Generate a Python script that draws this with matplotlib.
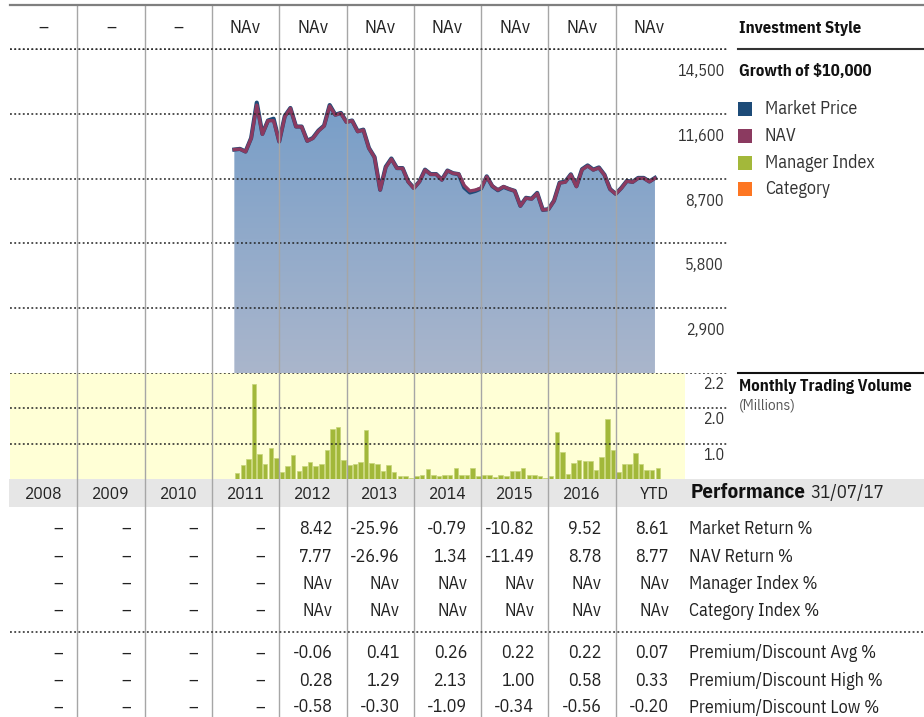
import matplotlib
matplotlib.use('Agg')
import matplotlib.pyplot as plt
from matplotlib.patches import Polygon, Rectangle
from matplotlib.colors import LinearSegmentedColormap
from matplotlib.transforms import blended_transform_factory, offset_copy
import numpy as np
import pandas as pd

plt.rcParams['font.family'] = ['IBM Plex Sans Condensed', 'DejaVu Sans']

# ---- data ----
years = ['2008', '2009', '2010', '2011', '2012', '2013', '2014', '2015', '2016', 'YTD']
style_row = ['–', '–', '–', 'NAv', 'NAv', 'NAv', 'NAv', 'NAv', 'NAv', 'NAv']

growth_start = '2011-04-30'
nav_growth = [10000, 10020, 9900, 10500, 11990, 10680, 11290, 11290, 10350, 11470,
              11845, 11020, 11020, 10380, 10500, 10830, 11050, 11950, 11545, 11620,
              11220, 11290, 10800, 10875, 10055, 9650, 8190, 9200, 9575, 9160,
              9160, 8560, 8265, 8560, 9085, 8890, 8890, 8640, 9050, 8935,
              8905, 8390, 8145, 8190, 8280, 8785, 8370, 8190, 8340, 8235,
              8145, 7475, 7830, 7785, 8040, 7295, 7325, 7700, 8500, 8540,
              8875, 8340, 9100, 9265, 9085, 9180, 8860, 8220, 8010, 8265,
              8590, 8540, 8715, 8715, 8560, 8715]
market_growth = [10000, 10030, 9910, 10520, 12100, 10700, 11300, 11380, 10360, 11500,
                 11860, 11030, 11030, 10390, 10520, 10850, 11070, 11990, 11560, 11640,
                 11240, 11300, 10820, 10890, 10070, 9660, 8200, 9230, 9600, 9170,
                 9170, 8570, 8280, 8570, 9100, 8900, 8900, 8650, 9060, 8940,
                 8900, 8300, 8080, 8150, 8260, 8800, 8360, 8180, 8330, 8230,
                 8150, 7480, 7840, 7800, 8060, 7300, 7330, 7710, 8520, 8560,
                 8890, 8360, 9120, 9290, 9100, 9200, 8870, 8230, 8020, 8280,
                 8600, 8550, 8730, 8730, 8570, 8730]

volume_start = '2011-05-01'
volume = [0.18, 0.39, 0.56, 2.68, 0.70, 0.43, 0.89, 0.59,
          0.21, 0.37, 0.68, 0.23, 0.36, 0.48, 0.37, 0.43, 0.81, 1.42, 1.46, 0.54,
          0.40, 0.42, 0.48, 1.40, 0.45, 0.42, 0.24, 0.39, 0.21, 0.09, 0.08, 0.03,
          0.08, 0.10, 0.28, 0.10, 0.08, 0.10, 0.11, 0.30, 0.10, 0.12, 0.30, 0.08,
          0.11, 0.11, 0.06, 0.11, 0.08, 0.23, 0.23, 0.32, 0.11, 0.11, 0.08, 0.02,
          0.08, 1.34, 0.76, 0.14, 0.45, 0.53, 0.51, 0.51, 0.26, 0.62, 1.69, 0.81,
          0.20, 0.43, 0.43, 0.75, 0.43, 0.25, 0.25, 0.31]

growth_ticks = [2900, 5800, 8700, 11600, 14500]
volume_ticks = [1, 2, 3]
volume_tick_labels = ['1.0', '2.0', '2.2']

legend_names = ['Market Price', 'NAV', 'Manager Index', 'Category']
legend_colors = ['#1d4b78', '#8b3a60', '#a3b83a', '#fd7622']

perf_labels = ['Market Return %', 'NAV Return %', 'Manager Index %', 'Category Index %',
               'Premium/Discount Avg %', 'Premium/Discount High %', 'Premium/Discount Low %']
market_return = ['–', '–', '–', '–', '8.42', '-25.96', '-0.79', '-10.82', '9.52', '8.61']
nav_return = ['–', '–', '–', '–', '7.77', '-26.96', '1.34', '-11.49', '8.78', '8.77']
manager_index = ['–', '–', '–', '–', 'NAv', 'NAv', 'NAv', 'NAv', 'NAv', 'NAv']
category_index = ['–', '–', '–', '–', 'NAv', 'NAv', 'NAv', 'NAv', 'NAv', 'NAv']
pd_avg = ['–', '–', '–', '–', '-0.06', '0.41', '0.26', '0.22', '0.22', '0.07']
pd_high = ['–', '–', '–', '–', '0.28', '1.29', '2.13', '1.00', '0.58', '0.33']
pd_low = ['–', '–', '–', '–', '-0.58', '-0.30', '-1.09', '-0.34', '-0.56', '-0.20']
perf_rows = [market_return, nav_return, manager_index, category_index, pd_avg, pd_high, pd_low]
perf_date = '31/07/17'

# ---- layout (pixels) ----
W, H = 924, 717
x0, colw = 10, 67.3
grid_right = 727
fig = plt.figure(figsize=(W / 100, H / 100), dpi=100)

def frac(left, top, right, bottom):
    return [left / W, 1 - bottom / H, (right - left) / W, (bottom - top) / H]

bg = fig.add_axes([0, 0, 1, 1], zorder=0)
bg.set_xlim(0, W)
bg.set_ylim(H, 0)
bg.axis('off')

xmax_year = 2008 + (grid_right - x0) / colw
dot = (0, (1.2, 1.6))
tc = '#222222'

# growth chart
ax = fig.add_axes(frac(x0, 49, grid_right, 373), zorder=2)
ax.set_facecolor('none')
dates = pd.date_range(growth_start, periods=len(nav_growth), freq='ME')
gx = dates.year + dates.month / 12
verts = [(gx[0], 0)] + list(zip(gx, nav_growth)) + [(gx[-1], 0)]
poly = Polygon(verts, facecolor='none', edgecolor='none')
ax.add_patch(poly)
cmap = LinearSegmentedColormap.from_list('g', ['#789ec8', '#aab6cc'])
grad = np.linspace(0, 1, 256).reshape(-1, 1)
im = ax.imshow(grad, cmap=cmap, aspect='auto', origin='upper',
               extent=[gx[0], gx[-1], 0, max(nav_growth)], zorder=1)
im.set_clip_path(poly)
ax.plot(gx, market_growth, color='#1d4b78', lw=3.0, zorder=3, solid_joinstyle='round')
ax.plot(gx, nav_growth, color='#8b3a60', lw=2.4, zorder=4, solid_joinstyle='round')
ax.set_xlim(2008, xmax_year)
ax.set_ylim(0, 14500)
lab_tr = offset_copy(blended_transform_factory(ax.transAxes, ax.transData), fig=fig,
                     x=-3, y=-22, units='dots')
for t in growth_ticks:
    ax.axhline(t, color='#222222', lw=1.1, ls=dot, zorder=5)
    ax.text(1, t, f'{t:,}', transform=lab_tr, ha='right', va='center',
            fontsize=11.5, color='#333333')
ax.axis('off')

# volume chart
vax = fig.add_axes(frac(x0, 373, grid_right, 479), zorder=1)
vax.set_facecolor('none')
vdates = pd.date_range(volume_start, periods=len(volume), freq='MS')
vx = vdates.year + (vdates.month - 1) / 12 + 1 / 24
vax.add_patch(Rectangle((2008, 0), 10 + 0.03, 3, facecolor='#ffffd6', edgecolor='none', zorder=0))
vax.bar(vx, volume, width=0.8 / 12, color='#a2b83a', edgecolor='#c6d57a', lw=0.5, zorder=2)
vax.set_xlim(2008, xmax_year)
vax.set_ylim(0, 3)
vlab_tr = offset_copy(blended_transform_factory(vax.transAxes, vax.transData), fig=fig,
                      x=-3, y=-11, units='dots')
for t, lab in zip(volume_ticks, volume_tick_labels):
    vax.axhline(t, color='#222222', lw=1.1, ls=dot, zorder=3)
    vax.text(1, t, lab, transform=vlab_tr, ha='right', va='center',
             fontsize=11.5, color='#333333')
vax.axis('off')

# overlay for lines and text
ov = fig.add_axes([0, 0, 1, 1], zorder=6)
ov.set_facecolor('none')
ov.set_xlim(0, W)
ov.set_ylim(H, 0)
ov.axis('off')

# performance band
bg.add_patch(Rectangle((x0 - 1, 479), W - x0 + 1, 28, facecolor='#e6e6e6', edgecolor='none'))

# top line and header row
ov.plot([x0, W], [5, 5], color='#7f7f7f', lw=1.6)
ov.plot([x0, grid_right], [49, 49], color='#222222', lw=1.1, ls=dot)
for i, v in enumerate(style_row):
    ov.text(x0 + colw * (i + 0.5), 28, v, ha='center', va='center', fontsize=13.5, color=tc)

# column separators
for i in range(1, 10):
    xx = x0 + colw * i
    ov.plot([xx, xx], [5, H], color='#a6a6a6', lw=1.0, zorder=0)

# right side panel
ov.text(739, 29, 'Investment Style', fontsize=12, fontweight='bold', va='center', color='#111111')
ov.plot([738, W], [49, 49], color='#333333', lw=1.5)
ov.text(739, 71, 'Growth of $10,000', fontsize=12, fontweight='bold', va='center', color='#111111')
for i, (name, c) in enumerate(zip(legend_names, legend_colors)):
    yy = 109 + 26.8 * i
    ov.add_patch(Rectangle((738, yy - 7), 14, 14, facecolor=c, edgecolor='none'))
    ov.text(765, yy, name, fontsize=13, va='center', color='#333333')
ov.plot([738, W], [373, 373], color='#111111', lw=1.5)
ov.text(739, 387, 'Monthly Trading Volume', fontsize=12, fontweight='bold', va='center', color='#111111')
ov.text(739, 406, '(Millions)', fontsize=11, va='center', color='#555555')

# performance header
for i, y in enumerate(years):
    if y == 'YTD':
        ov.text(x0 + colw * (i + 1) - 14, 494, y, ha='right', va='center', fontsize=12.5, color=tc)
    else:
        ov.text(x0 + colw * (i + 0.5), 494, y, ha='center', va='center', fontsize=12.5, color=tc)
ov.text(691, 493, 'Performance', fontsize=15, fontweight='bold', va='center', color='#111111')
ov.text(810, 493, perf_date, fontsize=13.5, va='center', color=tc)

# performance table
row_y = [529, 556.5, 584, 611, 653.5, 680.5, 707.5]
for r, (vals, lab, yy) in enumerate(zip(perf_rows, perf_labels, row_y)):
    for i, v in enumerate(vals):
        ov.text(x0 + colw * (i + 1) - 14, yy, v, ha='right', va='center', fontsize=13, color=tc)
    ov.text(689, yy, lab, ha='left', va='center', fontsize=13, color=tc)
ov.plot([x0, W], [632, 632], color='#222222', lw=1.1, ls=dot)

fig.savefig('out.png', dpi=100)
